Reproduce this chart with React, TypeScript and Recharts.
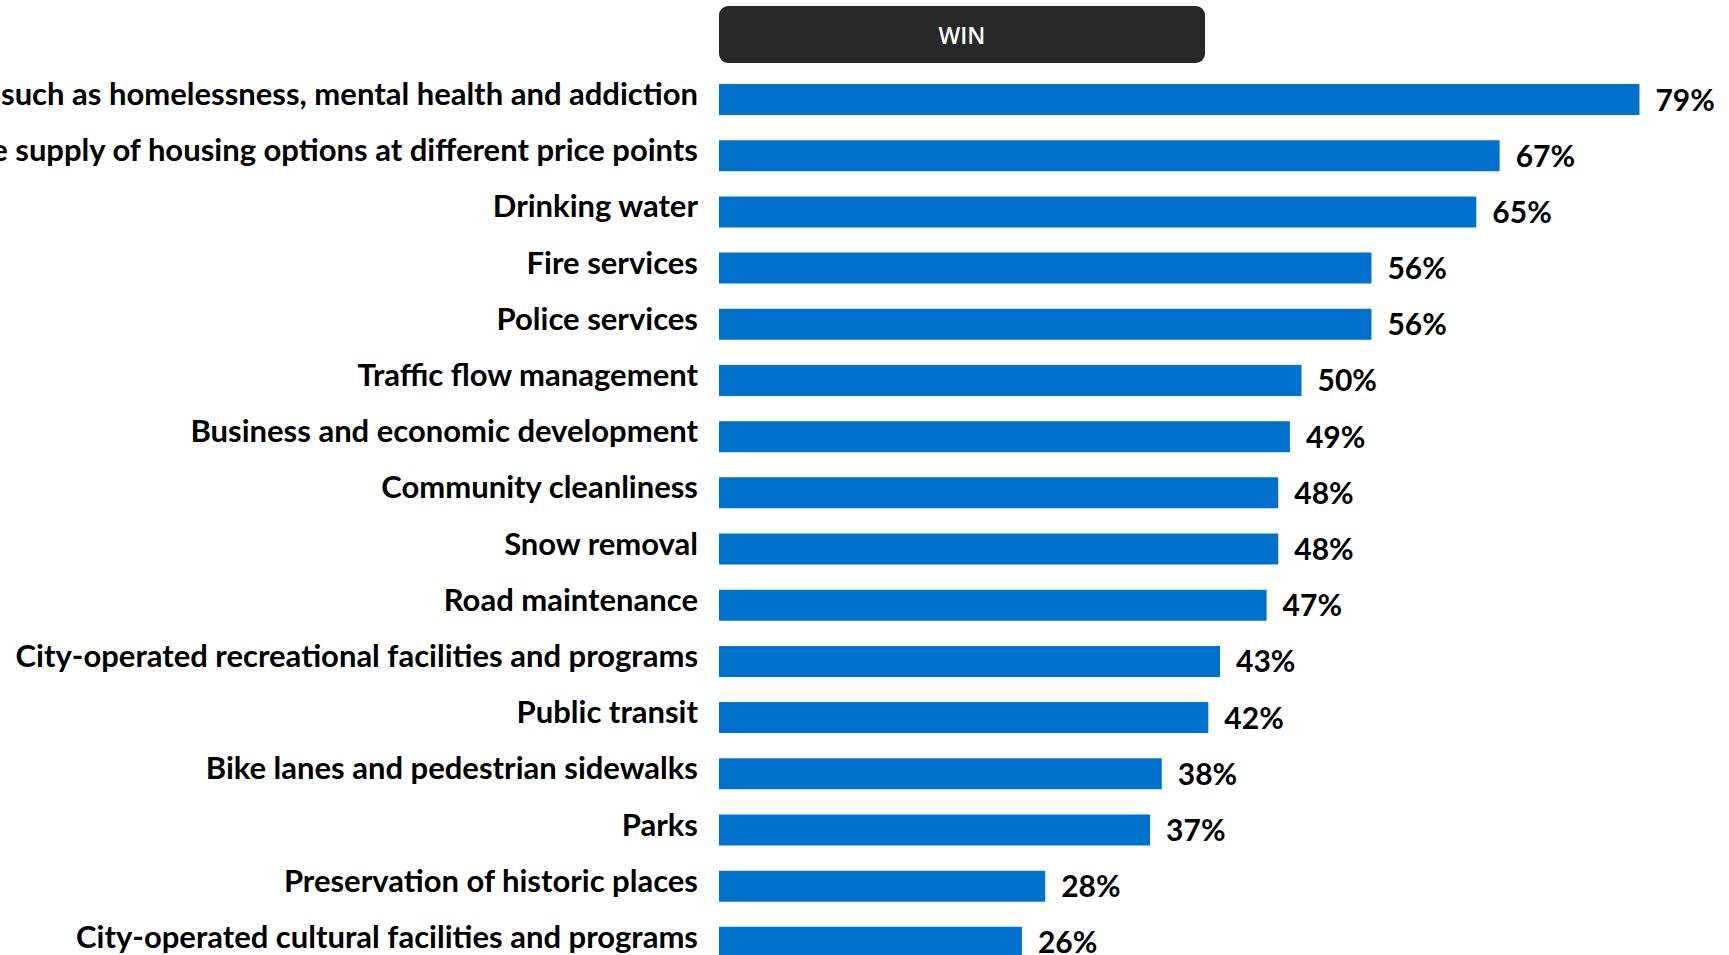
import { BarChart, Bar, XAxis, YAxis, LabelList } from 'recharts'

const categories = [
  'Social issues such as homelessness, mental health and addiction',
  'Adequate supply of housing options at different price points',
  'Drinking water',
  'Fire services',
  'Police services',
  'Traffic flow management',
  'Business and economic development',
  'Community cleanliness',
  'Snow removal',
  'Road maintenance',
  'City-operated recreational facilities and programs',
  'Public transit',
  'Bike lanes and pedestrian sidewalks',
  'Parks',
  'Preservation of historic places',
  'City-operated cultural facilities and programs',
]

const winValues = [79, 67, 65, 56, 56, 50, 49, 48, 48, 47, 43, 42, 38, 37, 28, 26]

const headerLabel = 'WIN'

const FONT = 'Lato, "Open Sans", sans-serif'
const BAR_COLOR = '#0072CE'

const data = categories.map((name, i) => ({ name, value: winValues[i] }))

function CategoryTick({ x, y, payload }: any) {
  return (
    <text x={x} y={y + 6} textAnchor="end" fontFamily={FONT} fontWeight={700} fontSize={31} fill="#000">
      {payload.value}
    </text>
  )
}

function ValueLabel({ x, y, width, height, value }: any) {
  return (
    <text
      x={x + width + 16}
      y={y + height / 2 + 11}
      fontFamily={FONT}
      fontWeight={700}
      fontSize={30}
      fill="#000"
    >
      {value}%
    </text>
  )
}

export default function App() {
  return (
    <>
      <style>{'html,body{margin:0;overflow:hidden} .recharts-surface{overflow:visible}'}</style>
      <div
        style={{
          position: 'absolute',
          left: 719,
          top: 6,
          width: 486,
          height: 57,
          background: '#282828',
          borderRadius: 9,
          color: '#fff',
          fontFamily: '"Open Sans", sans-serif',
          fontWeight: 600,
          fontSize: 23,
          display: 'flex',
          alignItems: 'center',
          justifyContent: 'center',
        }}
      >
        {headerLabel}
      </div>
      <div style={{ position: 'absolute', left: -300, top: 0 }}>
        <BarChart
          layout="vertical"
          width={2021}
          height={975}
          data={data}
          margin={{ top: 71, right: 0, left: 0, bottom: 5 }}
          barSize={31}
        >
          <XAxis type="number" domain={[0, 86]} hide />
          <YAxis
            type="category"
            dataKey="name"
            width={1019}
            axisLine={false}
            tickLine={false}
            tickSize={0}
            tickMargin={21}
            interval={0}
            tick={<CategoryTick />}
          />
          <Bar dataKey="value" fill={BAR_COLOR} isAnimationActive={false}>
            <LabelList dataKey="value" content={<ValueLabel />} />
          </Bar>
        </BarChart>
      </div>
    </>
  )
}
